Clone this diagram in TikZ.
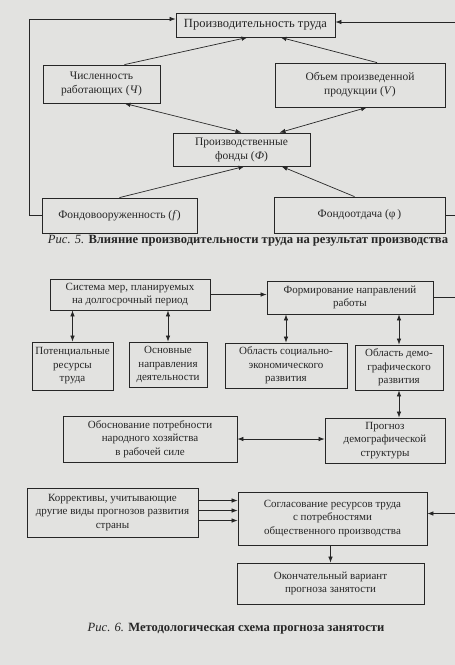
\documentclass[tikz,border=0pt]{standalone}
\usepackage{fontspec}
\setmainfont{Liberation Serif}
\usetikzlibrary{arrows.meta}
\definecolor{paper}{RGB}{226,226,224}
\definecolor{ink}{RGB}{38,38,38}

\begin{document}
\begin{tikzpicture}[x=1pt, y=-1pt,
    box/.style={draw=ink, line width=0.8pt, inner sep=0pt, align=center,
      text=ink, font=\fontsize{11}{13.5}\selectfont},
    bigbox/.style={box, font=\fontsize{11.5}{14}\selectfont},
    arr/.style={draw=ink, line width=0.7pt, -{Latex[length=6pt,width=4.5pt]}},
    dbl/.style={draw=ink, line width=0.7pt, {Latex[length=6pt,width=4.5pt]}-{Latex[length=6pt,width=4.5pt]}},
    capt/.style={text=ink, font=\fontsize{12.6}{15}\selectfont}]
    \fill[paper] (0,0) rectangle (455,665);
    \useasboundingbox (0,0) rectangle (455,665);
    % Fig. 5
    \node[bigbox, minimum width=159, minimum height=24, font=\fontsize{12.5}{15}\selectfont] (prod) at (255.5,25) {Производительность труда};
    \node[bigbox, minimum width=117, minimum height=38] (chisl) at (101.5,84) {Численность\\работающих (\textit{Ч})};
    \node[bigbox, minimum width=170, minimum height=44] (obem) at (360,85) {Объем произведенной\\продукции (\textit{V})};
    \node[bigbox, minimum width=137, minimum height=33] (fondy) at (241.5,149.5) {Производственные\\фонды (\textit{Ф})};
    \node[bigbox, minimum width=155, minimum height=35] (fvoor) at (119.5,215.5) {Фондовооруженность (\textit{f})};
    \node[bigbox, minimum width=171, minimum height=36] (fotd) at (359.5,215) {Фондоотдача (φ\,)};
    \draw[arr] ([xshift=23]chisl.north) -- ([xshift=-8]prod.south);
    \draw[arr] ([xshift=17]obem.north) -- ([xshift=25]prod.south);
    \draw[dbl] ([xshift=23]chisl.south) -- (fondy.north);
    \draw[dbl] ([xshift=7]obem.south) -- ([xshift=38]fondy.north);
    \draw[arr] (fvoor.north) -- ([xshift=3]fondy.south);
    \draw[arr] ([xshift=-5]fotd.north) -- ([xshift=40]fondy.south);
    \coordinate (lt) at (29,19);
    \coordinate (rt) at (458,22);
    \draw[arr] (fvoor.west) -| (lt) -- (prod.west |- lt);
    \draw[arr] (fotd.east) -| (rt) -- (prod.east |- rt);
    \node[capt] (cap5) at (248,241) {\textit{Рис. 5.} \textbf{Влияние производительности труда на результат производства}};
    % Fig. 6
    \node[box, minimum width=160, minimum height=31] (sist) at (130,294.5) {Система мер, планируемых\\на долгосрочный период};
    \node[box, minimum width=166, minimum height=33] (form) at (350,297.5) {Формирование направлений\\работы};
    \node[box, minimum width=81, minimum height=48] (poten) at (72.5,366) {Потенциальные\\ресурсы\\труда};
    \node[box, minimum width=78, minimum height=45] (osn) at (168,364.5) {Основные\\направления\\деятельности};
    \node[box, minimum width=122, minimum height=45] (soc) at (286,365.5) {Область социально-\\экономического\\развития};
    \node[box, minimum width=88, minimum height=45] (demo) at (399,367.5) {Область демо-\\графического\\развития};
    \node[box, minimum width=174, minimum height=46] (obosn) at (150,439) {Обоснование потребности\\народного хозяйства\\в рабочей силе};
    \node[box, minimum width=120, minimum height=45] (progn) at (385,440.5) {Прогноз\\демографической\\структуры};
    \node[box, minimum width=171, minimum height=49] (korr) at (112.5,512.5) {Коррективы, учитывающие\\другие виды прогнозов развития\\страны};
    \node[box, minimum width=189, minimum height=53] (sogl) at (332.5,518.5) {Согласование ресурсов труда\\с потребностями\\общественного производства};
    \node[box, minimum width=187, minimum height=41] (okon) at (330.5,583.5) {Окончательный вариант\\прогноза занятости};
    \draw[arr] (sist.east) -- (sist.east -| form.west);
    \draw[dbl] (poten.north) -- (poten.north |- sist.south);
    \draw[dbl] (osn.north) -- (osn.north |- sist.south);
    \draw[dbl] (soc.north) -- (soc.north |- form.south);
    \draw[dbl] (demo.north) -- (demo.north |- form.south);
    \draw[dbl] (demo.south) -- (demo.south |- progn.north);
    \draw[dbl] (obosn.east) -- (obosn.east -| progn.west);
    \foreach \d in {12,2,-8}
      \draw[arr] ([yshift=\d]korr.east) -- ([yshift=\d]korr.east -| sogl.west);
    \coordinate (rf) at (458,297);
    \draw[arr] (form.east) -| (rf) |- ([yshift=5]sogl.east);
    \draw[arr] (okon.north |- sogl.south) -- (okon.north);
    \node[capt] (cap6) at (236,629) {\textit{Рис. 6.} \textbf{Методологическая схема прогноза занятости}};
\end{tikzpicture}
\end{document}
